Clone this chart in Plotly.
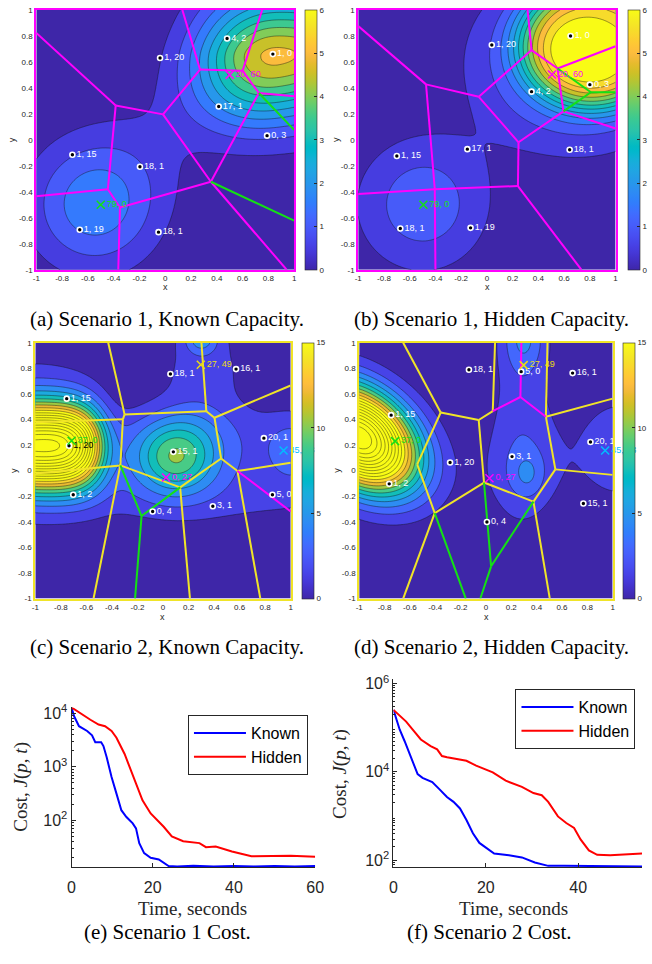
import numpy as np
import plotly.graph_objects as go

W, H = 652, 964

PARULA = [
[0.2422,0.1504,0.6603],[0.2504,0.1650,0.7076],[0.2578,0.1818,0.7511],[0.2647,0.1978,0.7952],
[0.2706,0.2147,0.8364],[0.2751,0.2342,0.8710],[0.2783,0.2559,0.8991],[0.2803,0.2782,0.9221],
[0.2813,0.3006,0.9414],[0.2810,0.3228,0.9579],[0.2795,0.3447,0.9717],[0.2760,0.3667,0.9829],
[0.2699,0.3892,0.9906],[0.2602,0.4123,0.9952],[0.2440,0.4358,0.9988],[0.2206,0.4603,0.9973],
[0.1963,0.4847,0.9892],[0.1834,0.5074,0.9798],[0.1786,0.5289,0.9682],[0.1764,0.5499,0.9520],
[0.1687,0.5703,0.9359],[0.1540,0.5902,0.9218],[0.1460,0.6091,0.9079],[0.1380,0.6276,0.8973],
[0.1248,0.6459,0.8883],[0.1113,0.6635,0.8763],[0.0952,0.6798,0.8598],[0.0689,0.6948,0.8394],
[0.0297,0.7082,0.8163],[0.0036,0.7203,0.7917],[0.0067,0.7312,0.7660],[0.0433,0.7411,0.7394],
[0.0964,0.7500,0.7120],[0.1408,0.7584,0.6842],[0.1717,0.7670,0.6554],[0.1938,0.7758,0.6251],
[0.2161,0.7843,0.5923],[0.2470,0.7918,0.5567],[0.2906,0.7973,0.5188],[0.3406,0.8008,0.4789],
[0.3909,0.8029,0.4354],[0.4456,0.8024,0.3909],[0.5044,0.7993,0.3480],[0.5616,0.7942,0.3045],
[0.6174,0.7876,0.2612],[0.6720,0.7793,0.2227],[0.7242,0.7698,0.1910],[0.7738,0.7598,0.1646],
[0.8203,0.7498,0.1535],[0.8634,0.7406,0.1596],[0.9035,0.7330,0.1774],[0.9393,0.7288,0.2100],
[0.9728,0.7298,0.2394],[0.9956,0.7434,0.2371],[0.9970,0.7659,0.2199],[0.9952,0.7893,0.2028],
[0.9892,0.8136,0.1885],[0.9786,0.8386,0.1766],[0.9676,0.8639,0.1643],[0.9610,0.8890,0.1537],
[0.9597,0.9135,0.1423],[0.9628,0.9373,0.1265],[0.9691,0.9606,0.1064],[0.9769,0.9839,0.0805]]

# ---------------- data: density bumps (centre, amplitude, widths, correlation, shape powers) ----------
a_cx = [0.92, 0.55, -0.55, -0.10]
a_cy = [0.665, 0.35, -0.50, -0.05]
a_amp = [4.9, 0.8, 1.85, 0.3]
a_sx = [0.475, 0.35, 0.35, 0.35]
a_sy = [0.318, 0.25, 0.35, 0.35]
a_rho = [0, 0, 0, 0]
a_powx = [2.4, 2, 2, 2]
a_powy = [1.8, 2, 2, 2]

b_cx = [0.85, 0.70, -0.50]
b_cy = [0.75, 0.60, -0.50]
b_amp = [4.5, 2.3, 1.35]
b_sx = [0.50, 0.50, 0.36]
b_sy = [0.42, 0.42, 0.36]
b_rho = [0, 0, 0]
b_powx = [4, 2, 2]
b_powy = [4, 2, 2]

c_cx = [-1.0, -1.0, 0.10, 0.30, 0.30, 0.32, 1.02]
c_cy = [0.20, 0.25, 0.11, 0.03, 1.03, 0.75, 0.20]
c_amp = [27.0, 2.5, 8.3, 2.2, 4.0, 2.2, 1.8]
c_sx = [0.414, 0.35, 0.22, 1.3, 0.09, 0.26, 0.15]
c_sy = [0.22, 0.45, 0.20, 0.395, 0.08, 0.35, 0.20]
c_rho = [0, 0, 0, 0, 0, 0, 0]
c_powx = [4, 2, 2, 4, 2, 2, 2]
c_powy = [2, 2, 2, 4, 2, 2, 2]

d_cx = [-1.0, 0.28, 0.33, 0.28, 0.30, 1.05]
d_cy = [0.26, 0.35, -0.03, 0.0, 1.05, 0.17]
d_amp = [30.0, 2.25, 1.95, 1.2, 3.8, 2.4]
d_sx = [0.306, 0.19, 0.09, 0.25, 0.12, 0.28]
d_sy = [0.28, 0.60, 0.12, 0.25, 0.20, 0.34]
d_rho = [-0.357, 0, 0, 0, 0, 0]
d_powx = [2, 2, 2, 2, 2, 2]
d_powy = [2, 2, 2, 2, 2, 2]

# ---------------- data: agents (points) ----------------
a_px = [0.48, 0.835, -0.04, 0.415, 0.79, -0.72, -0.196, -0.663, -0.052]
a_py = [0.78, 0.66, 0.63, 0.257, 0.032, -0.115, -0.207, -0.693, -0.711]
a_pl = ['4, 2', '1, 0', '1, 20', '17, 1', '0, 3', '1, 15', '18, 1', '1, 19', '18, 1']

b_px = [0.65, 0.038, 0.80, 0.347, -0.152, 0.643, -0.70, -0.673, -0.127]
b_py = [0.80, 0.73, 0.425, 0.371, -0.072, -0.077, -0.125, -0.683, -0.678]
b_pl = ['1, 0', '1, 20', '0, 3', '4, 2', '17, 1', '18, 1', '1, 15', '18, 1', '1, 19']

c_px = [0.058, 0.572, -0.754, -0.736, 0.79, 0.081, -0.703, -0.081, 0.39, 0.857]
c_py = [0.756, 0.794, 0.563, 0.195, 0.254, 0.147, -0.188, -0.319, -0.278, -0.188]
c_pl = ['18, 1', '16, 1', '1, 15', '1, 20', '20, 1', '15, 1', '1, 2', '0, 4', '3, 1', '5, 0']

d_px = [-0.134, 0.278, 0.684, -0.748, 0.825, -0.283, 0.206, -0.763, 0.769, 0.008]
d_py = [0.789, 0.774, 0.763, 0.434, 0.224, 0.064, 0.110, -0.103, -0.257, -0.401]
d_pl = ['18, 1', '5, 0', '16, 1', '1, 15', '20, 1', '1, 20', '3, 1', '1, 2', '15, 1', '0, 4']

# ---------------- data: sinks (crosses) ----------------
GRN, MAG, YEL, CYN = 'rgb(20,225,20)', 'rgb(255,0,255)', 'rgb(235,220,20)', 'rgb(0,190,255)'
a_kx = [-0.5, 0.5]
a_ky = [-0.5, 0.5]
a_kl = ['79, 0', '20, 60']
a_kc = [GRN, MAG]

b_kx = [-0.494, 0.506]
b_ky = [-0.5, 0.503]
b_kl = ['79, 0', '20, 60']
b_kc = [GRN, MAG]

c_kx = [0.296, -0.716, 0.024, 0.944]
c_ky = [0.828, 0.234, -0.054, 0.157]
c_kl = ['27, 49', '37, 0', '0, 27', '45, 33']
c_kc = [YEL, GRN, MAG, CYN]

d_kx = [0.298, -0.717, 0.028, 0.941]
d_ky = [0.825, 0.231, -0.059, 0.157]
d_kl = ['27, 49', '37, 0', '0, 27', '45, 33']
d_kc = [YEL, GRN, MAG, CYN]

# ---------------- data: partition edges [x0, y0, x1, y1] ----------------
a_seg_mag = [[-1, 0.823, -0.384, 0.265], [-0.384, 0.265, -0.445, -0.381], [-0.384, 0.265, -0.017, 0.196],
             [-0.017, 0.196, 0.270, 0.541], [0.270, 0.541, 0.133, 1.0], [0.270, 0.541, 0.600, 0.531],
             [0.600, 0.531, 0.752, 1.0], [0.600, 0.531, 0.726, 0.361], [0.726, 0.361, 1.0, 0.336],
             [0.726, 0.361, 0.354, -0.323], [-0.017, 0.196, 0.354, -0.323], [0.354, -0.323, -0.351, -0.521],
             [-0.445, -0.381, -0.351, -0.521], [-0.445, -0.381, -1.0, -0.435], [-0.351, -0.521, -0.364, -1.0],
             [0.354, -0.323, 0.942, -1.0]]
a_seg_grn = [[0.726, 0.361, 1.0, 0.077], [0.354, -0.323, 1.0, -0.622]]

b_seg_mag = [[-1, 0.876, -0.473, 0.427], [-0.473, 0.427, -0.405, -0.381], [-0.405, -0.381, -0.4, -1],
             [-0.473, 0.427, -0.063, 0.331], [-0.063, 0.331, 0.347, 0.691], [0.347, 0.691, 0.316, 1],
             [0.347, 0.691, 0.549, 0.549], [0.549, 0.549, 1, 0.721], [0.549, 0.549, 0.595, 0.219],
             [0.595, 0.219, 1, 0.087], [0.595, 0.219, 0.246, -0.019], [-0.063, 0.331, 0.246, -0.019],
             [0.246, -0.019, 0.241, -0.356], [0.241, -0.356, -0.405, -0.381], [-0.405, -0.381, -1, -0.417],
             [0.241, -0.356, 0.734, -1]]
b_seg_grn = [[0.549, 0.549, 0.808, 0.366], [0.808, 0.366, 1, 0.366], [0.808, 0.366, 0.595, 0.219]]

c_seg_yel = [[-0.429, 1, -0.301, 0.440], [-0.301, 0.440, 0.339, 0.465], [0.339, 0.465, 0.301, 1],
             [0.339, 0.465, 0.403, 0.414], [0.403, 0.414, 1, 0.666], [0.403, 0.414, 0.455, 0.095],
             [-0.301, 0.440, -0.314, 0.401], [-0.314, 0.401, -1, 0.378], [-0.314, 0.401, -0.334, 0.041],
             [-0.334, 0.041, -1, -0.023], [-0.334, 0.041, 0.134, -0.131], [0.134, -0.131, 0.455, 0.095],
             [0.455, 0.095, 0.583, -0.003], [0.583, -0.003, 1, 0.062], [0.583, -0.003, 0.762, -1],
             [0.134, -0.131, 0.211, -1], [-0.334, 0.041, -0.544, -1]]
c_seg_mag = [[0.583, -0.003, 1, -0.319]]
c_seg_grn = [[0.134, -0.131, -0.168, -0.355], [-0.334, 0.041, -0.168, -0.355], [-0.168, -0.355, -0.219, -1]]

d_seg_yel = [[-0.653, 1, -0.357, 0.455], [-0.357, 0.455, -0.057, 0.396], [-0.357, 0.455, -0.542, 0.049],
             [-0.542, 0.049, -0.404, -0.332], [-0.404, -0.332, -0.015, -0.093], [-0.015, -0.093, -0.057, 0.396],
             [-0.057, 0.396, 0.054, 0.465], [0.054, 0.465, 0.072, 1], [0.486, 1, 0.473, 0.422],
             [0.473, 0.422, 1, 0.563], [0.473, 0.422, 0.548, 0.010], [0.548, 0.010, 1, -0.033],
             [0.548, 0.010, 0.375, -0.242], [0.375, -0.242, -0.015, -0.093], [0.375, -0.242, 0.504, -1],
             [-0.404, -0.332, -0.653, -1]]
d_seg_mag = [[0.054, 0.465, 0.272, 0.576], [0.272, 0.576, 0.280, 1], [0.272, 0.576, 0.473, 0.422]]
d_seg_grn = [[-0.404, -0.332, -0.159, -1], [-0.015, -0.093, 0.041, -0.748], [0.041, -0.748, -0.044, -1],
             [0.041, -0.748, 0.375, -0.242]]

# ---------------- data: cost curves ----------------
e_t_known = [0, 0.64, 1.84, 3.85, 5.05, 5.85, 7.3, 7.86, 8.66, 9.86, 11.07, 12.27, 13.47, 15.07, 15.88,
             16.68, 17.88, 19.49, 21.49, 22.7, 23.9, 26, 30, 35, 40, 45, 50, 55, 60]
e_known = [12900, 8810, 5750, 4680, 3890, 2880, 2880, 2450, 1510, 646, 316, 155, 117, 88, 71,
           37.6, 24.5, 20, 18.6, 16.2, 14, 13.8, 14.2, 13.7, 14.0, 13.8, 14.1, 13.8, 14.0]
e_t_hidden = [0, 2.65, 4.65, 6.66, 8.26, 9.86, 11.07, 13.07, 14.67, 15.88, 17.48, 19.49, 21.49, 22.7, 24.7,
              27.5, 31.5, 33.1, 35.5, 39.5, 44.3, 47.6, 54, 60]
e_hidden = [12900, 9440, 7590, 6170, 5750, 4680, 3510, 1740, 851, 479, 237, 135, 94, 76, 50,
            40.7, 37.6, 31.6, 32.4, 26.3, 21.4, 21.4, 21.9, 20.9]

f_t_known = [0, 1.34, 2.4, 3.81, 5.23, 6.29, 8.4, 9.82, 11.58, 13.0, 14.4, 15.8, 17.2, 18.6, 20.1, 21.8,
             25.0, 27.8, 30.6, 33.5, 37, 45, 53.8]
f_known = [254000, 91200, 50100, 21400, 8910, 7330, 5890, 4170, 2690, 2090, 1480, 813, 407, 245, 191, 141,
           129, 115, 88, 74, 74, 72, 72]
f_t_hidden = [0, 2.75, 4.17, 5.93, 8.05, 9.46, 10.5, 11.6, 15.8, 17.9, 21.5, 24.3, 27.8, 30.3, 32.1, 33.5,
              35.6, 37.4, 39.1, 40.5, 42.3, 44.1, 46.9, 51.1, 53.8]
f_hidden = [254000, 138000, 91200, 54300, 38500, 32400, 22900, 21400, 17800, 13800, 9770, 6310, 4570, 3310,
            2950, 2090, 977, 692, 537, 295, 166, 132, 129, 135, 141]

# ---------------- helpers ----------------
def parula(v):
    v = min(max(v, 0.0), 1.0)
    pos = v * 63
    i = int(np.floor(pos))
    if i >= 63:
        return PARULA[63]
    f = pos - i
    return [PARULA[i][k] * (1 - f) + PARULA[i + 1][k] * f for k in range(3)]


def rgb(c):
    return 'rgb(%d,%d,%d)' % tuple(int(round(255 * x)) for x in c)


CONT_SCALE = [[i / 63, rgb(PARULA[i])] for i in range(64)]


def band_scale(cs, K, cmax):
    return [[k / K, rgb(parula(k * cs / cmax))] for k in range(K + 1)]


def field(X, Y, cx, cy, amp, sx, sy, rho, pwx, pwy):
    Z = np.zeros_like(X)
    for x0, y0, A, s1, s2, r, p1, p2 in zip(cx, cy, amp, sx, sy, rho, pwx, pwy):
        dx = (X - x0) / s1
        dy = (Y - y0) / s2
        if r != 0:
            E = 0.5 * (dx * dx - 2 * r * dx * dy + dy * dy) / (1 - r * r)
        elif p1 == p2:
            E = 0.5 * (dx * dx + dy * dy) ** (p1 / 2.0)
        else:
            E = 0.5 * (np.abs(dx) ** p1 + np.abs(dy) ** p2)
        Z += A * np.exp(-E)
    return Z


TXT = '#262626'
fig = go.Figure()
g = np.linspace(-1, 1, 161)
GX, GY = np.meshgrid(g, g)

panels = [
    dict(b=(a_cx, a_cy, a_amp, a_sx, a_sy, a_rho, a_powx, a_powy), cs=0.5, K=12, cmax=6,
         cbt=[0, 1, 2, 3, 4, 5, 6], pts=(a_px, a_py, a_pl), ks=(a_kx, a_ky, a_kl, a_kc),
         segs=[(MAG, a_seg_mag), ('rgb(20,225,20)', a_seg_grn)], border=MAG,
         box=(33, 296.5, 3, 266), cbx=308, xl=(165, 284), yl=(9, 134)),
    dict(b=(b_cx, b_cy, b_amp, b_sx, b_sy, b_rho, b_powx, b_powy), cs=0.5, K=12, cmax=6,
         cbt=[0, 1, 2, 3, 4, 5, 6], pts=(b_px, b_py, b_pl), ks=(b_kx, b_ky, b_kl, b_kc),
         segs=[(MAG, b_seg_mag), ('rgb(20,225,20)', b_seg_grn)], border=MAG,
         box=(362, 625, 3, 266), cbx=638, xl=(494, 284), yl=(340, 134)),
    dict(b=(c_cx, c_cy, c_amp, c_sx, c_sy, c_rho, c_powx, c_powy), cs=1.5, K=25, cmax=15,
         cbt=[0, 5, 10, 15], pts=(c_px, c_py, c_pl), ks=(c_kx, c_ky, c_kl, c_kc),
         segs=[('rgb(240,228,40)', c_seg_yel), (MAG, c_seg_mag), ('rgb(20,225,20)', c_seg_grn)],
         border='rgb(240,228,40)', box=(32, 293, 340, 599), cbx=305, xl=(162, 618), yl=(10, 469)),
    dict(b=(d_cx, d_cy, d_amp, d_sx, d_sy, d_rho, d_powx, d_powy), cs=1.5, K=25, cmax=15,
         cbt=[0, 5, 10, 15], pts=(d_px, d_py, d_pl), ks=(d_kx, d_ky, d_kl, d_kc),
         segs=[('rgb(240,228,40)', d_seg_yel), (MAG, d_seg_mag), ('rgb(20,225,20)', d_seg_grn)],
         border='rgb(240,228,40)', box=(363, 622, 340, 599), cbx=633, xl=(493, 618), yl=(340, 469)),
]

annotations = []


def note(text, x, y, size, color=TXT, family='Liberation Sans', angle=0):
    annotations.append(dict(text=text, x=x / W, y=1 - y / H, xref='paper', yref='paper', showarrow=False,
                            xanchor='center', yanchor='middle', textangle=angle,
                            font=dict(size=size, color=color, family=family)))


xt = [-1, -0.8, -0.6, -0.4, -0.2, 0, 0.2, 0.4, 0.6, 0.8, 1]
xtt = ['-1', '-0.8', '-0.6', '-0.4', '-0.2', '0', '0.2', '0.4', '0.6', '0.8', '1']
layout_axes = {}
for n, P in enumerate(panels, start=1):
    sfx = '' if n == 1 else str(n)
    xa, ya = 'x' + sfx, 'y' + sfx
    Z = np.round(field(GX, GY, *P['b']), 3)
    fig.add_trace(go.Contour(x=g, y=g, z=Z, xaxis=xa, yaxis=ya, autocontour=False,
                             contours=dict(start=P['cs'], end=P['cs'] * P['K'], size=P['cs'],
                                           coloring='fill', showlines=True),
                             line=dict(color='rgba(20,20,20,0.85)', width=0.5),
                             colorscale=band_scale(P['cs'], P['K'], P['cmax']),
                             showscale=False, hoverinfo='skip', showlegend=False))
    for col, segs in P['segs']:
        xs, ys = [], []
        for s in segs:
            xs += [s[0], s[2], None]
            ys += [s[1], s[3], None]
        fig.add_trace(go.Scatter(x=xs, y=ys, mode='lines', line=dict(color=col, width=2),
                                 xaxis=xa, yaxis=ya, hoverinfo='skip', showlegend=False))
    px, py, pl = P['pts']
    tcol = ['black' if (n == 3 and l == '1, 20') else 'white' for l in pl]
    fig.add_trace(go.Scatter(x=px, y=py, mode='markers+text', text=pl, textposition='middle right',
                             textfont=dict(size=9, color=tcol, family='Liberation Sans'),
                             marker=dict(size=5, color='black', line=dict(color='white', width=1.6)),
                             cliponaxis=False, xaxis=xa, yaxis=ya, hoverinfo='skip', showlegend=False))
    kx, ky, kl, kc = P['ks']
    fig.add_trace(go.Scatter(x=kx, y=ky, mode='markers+text', text=kl, textposition='middle right',
                             textfont=dict(size=9, color=kc, family='Liberation Sans'),
                             marker=dict(symbol='x-thin', size=8, color=kc, line=dict(color=kc, width=1.5)),
                             cliponaxis=False, xaxis=xa, yaxis=ya, hoverinfo='skip', showlegend=False))
    x0, x1, y0, y1 = P['box']
    cbar = dict(x=P['cbx'] / W, xanchor='left', y=1 - (y0 + y1) / 2 / H,
                yanchor='middle', len=(y1 - y0) / H, lenmode='fraction',
                thickness=12, thicknessmode='pixels', xpad=0, ypad=0,
                outlinewidth=0.6, outlinecolor=TXT, tickvals=P['cbt'],
                ticks='inside', ticklen=3, tickcolor=TXT,
                tickfont=dict(size=8, color=TXT, family='Liberation Sans'))
    fig.add_trace(go.Scatter(x=[5, 5], y=[5, 5], mode='markers', xaxis=xa, yaxis=ya, hoverinfo='skip',
                             showlegend=False,
                             marker=dict(size=1, opacity=0, color=[0, P['cmax']], cmin=0, cmax=P['cmax'],
                                         colorscale=CONT_SCALE, showscale=True, colorbar=cbar)))
    layout_axes['xaxis' + sfx] = dict(domain=[x0 / W, x1 / W], range=[-1, 1], anchor=ya, tickvals=xt, ticktext=xtt,
                                      showline=True, linecolor=P['border'], linewidth=2, mirror=True, ticks='',
                                      showgrid=False, zeroline=False,
                                      tickfont=dict(size=8, color=TXT, family='Liberation Sans'))
    layout_axes['yaxis' + sfx] = dict(domain=[1 - y1 / H, 1 - y0 / H], range=[-1, 1], anchor=xa, tickvals=xt,
                                      ticktext=xtt, showline=True, linecolor=P['border'], linewidth=2, mirror=True,
                                      ticks='', showgrid=False, zeroline=False,
                                      tickfont=dict(size=8, color=TXT, family='Liberation Sans'))
    note('x', P['xl'][0], P['xl'][1], 9)
    note('y', P['yl'][0], P['yl'][1], 9, angle=-90)

# ---------------- cost curves ----------------
fig.add_trace(go.Scatter(x=e_t_known, y=e_known, mode='lines', name='Known', line=dict(color='#0000FF', width=2),
                         xaxis='x5', yaxis='y5', legend='legend'))
fig.add_trace(go.Scatter(x=e_t_hidden, y=e_hidden, mode='lines', name='Hidden', line=dict(color='#FF0000', width=2),
                         xaxis='x5', yaxis='y5', legend='legend'))
fig.add_trace(go.Scatter(x=f_t_known, y=f_known, mode='lines', name='Known', line=dict(color='#0000FF', width=2),
                         xaxis='x6', yaxis='y6', legend='legend2'))
fig.add_trace(go.Scatter(x=f_t_hidden, y=f_hidden, mode='lines', name='Hidden', line=dict(color='#FF0000', width=2),
                         xaxis='x6', yaxis='y6', legend='legend2'))

minor_vals = [m * 10 ** k for k in range(1, 7) for m in range(2, 10)]
lin_font = dict(size=16, color=TXT, family='Liberation Sans')
minor_cfg = dict(ticks='inside', ticklen=2, tickwidth=0.6, tickcolor=TXT, showgrid=False,
                 tickmode='array', tickvals=minor_vals)
layout_axes['xaxis5'] = dict(domain=[69 / W, 318 / W], range=[0, 60], anchor='y5', tickvals=[0, 20, 40, 60],
                             ticks='inside', ticklen=4, tickcolor=TXT, showline=True, linecolor=TXT, linewidth=1,
                             showgrid=False, zeroline=False, tickfont=lin_font, ticklabelstandoff=6)
layout_axes['yaxis5'] = dict(domain=[1 - 871 / H, 1 - 709.3 / H], type='log', range=[1.126, 4.11], anchor='x5',
                             tickvals=[1e2, 1e3, 1e4], ticktext=['10<sup>2</sup>', '10<sup>3</sup>', '10<sup>4</sup>'],
                             ticks='inside', ticklen=4, tickcolor=TXT, showline=True, linecolor=TXT, linewidth=1,
                             showgrid=False, zeroline=False, tickfont=lin_font, minor=minor_cfg)
layout_axes['xaxis6'] = dict(domain=[398 / W, 1.0], range=[0, 53.8], anchor='y6', tickvals=[0, 20, 40],
                             ticks='inside', ticklen=4, tickcolor=TXT, showline=True, linecolor=TXT, linewidth=1,
                             showgrid=False, zeroline=False, tickfont=lin_font, ticklabelstandoff=6)
layout_axes['yaxis6'] = dict(domain=[1 - 871 / H, 1 - 680.7 / H], type='log', range=[1.84, 6.1], anchor='x6',
                             tickvals=[1e2, 1e4, 1e6], ticktext=['10<sup>2</sup>', '10<sup>4</sup>', '10<sup>6</sup>'],
                             ticks='inside', ticklen=4, tickcolor=TXT, showline=True, linecolor=TXT, linewidth=1,
                             showgrid=False, zeroline=False, tickfont=lin_font, minor=minor_cfg)

serif = 'Liberation Serif'
note('Time, seconds', 193, 913, 19, family=serif)
note('Time, seconds', 521, 913, 19, family=serif)
note('Cost, <i>J</i>(<i>p</i>, <i>t</i>)', 18, 790, 19, family=serif, angle=-90)
note('Cost, <i>J</i>(<i>p</i>, <i>t</i>)', 344, 777, 19, family=serif, angle=-90)
captions = [('(a) Scenario 1, Known Capacity.', 167, 316), ('(b) Scenario 1, Hidden Capacity.', 498, 316),
            ('(c) Scenario 2, Known Capacity.', 167, 648), ('(d) Scenario 2, Hidden Capacity.', 498, 648),
            ('(e) Scenario 1 Cost.', 167, 937), ('(f) Scenario 2 Cost.', 496, 937)]
for txt, x, y in captions:
    note(txt, x, y, 21, color='black', family=serif)

leg_common = dict(xanchor='left', yanchor='top', bordercolor=TXT, borderwidth=1, bgcolor='white',
                  font=dict(size=16, color='black', family='Liberation Sans'), itemwidth=52, tracegroupgap=0)
fig.update_layout(width=W, height=H, margin=dict(l=0, r=0, t=0, b=0), paper_bgcolor='white',
                  plot_bgcolor='white', annotations=annotations,
                  legend=dict(x=188 / W, y=1 - 717 / H, **leg_common),
                  legend2=dict(x=522.7 / W, y=1 - 690.7 / H, **leg_common),
                  **layout_axes)

fig.write_html("out.html", config={'displayModeBar': False},
               post_script="document.body.style.margin='0';document.body.style.padding='0';"
                           "document.documentElement.style.overflow='hidden';")
